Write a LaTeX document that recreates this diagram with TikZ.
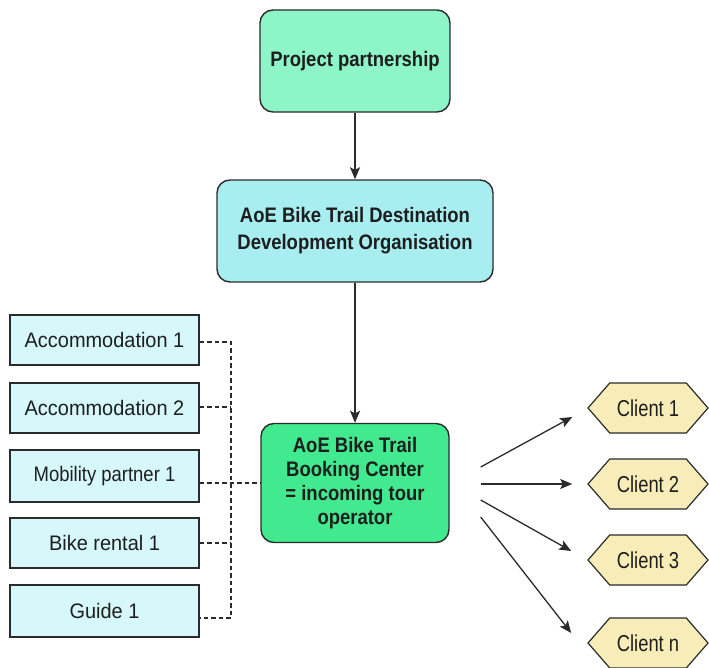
\documentclass[tikz,border=0pt]{standalone}
\usepackage{fontspec}
\setmainfont{Liberation Sans}[BoldFeatures={FakeStretch=0.88}]
\newfontfamily\sidefont{Liberation Sans}[FakeStretch=0.95]
\newfontfamily\mobfont{Liberation Sans}[FakeStretch=0.88]
\newfontfamily\clientfont{Liberation Sans}[FakeStretch=0.8]
\usetikzlibrary{shapes.symbols,arrows.meta}
\definecolor{ppfill}{HTML}{8EF5C8}
\definecolor{ddofill}{HTML}{A8EEF0}
\definecolor{bcfill}{HTML}{42EA8F}
\definecolor{lfill}{HTML}{D6F8FA}
\definecolor{cfill}{HTML}{F8EDB9}
\definecolor{edge}{HTML}{2B2B2B}
\definecolor{txt}{HTML}{1E1E1E}
\tikzset{
  mainbox/.style={draw=edge, line width=1.4pt, rounded corners=13pt, align=center, text=txt,
    font=\fontsize{21}{27}\selectfont\bfseries, inner sep=0pt},
  sidebox/.style={draw=edge, line width=1.3pt, fill=lfill, text=txt, minimum width=189pt,
    minimum height=50pt, inner sep=0pt, font=\sidefont\fontsize{21}{22}\selectfont},
  clientbox/.style={draw=edge, line width=1.2pt, fill=cfill, text=txt, signal, signal to=west and east,
    signal pointer angle=98, minimum width=120pt, minimum height=50pt, inner sep=0pt,
    font=\clientfont\fontsize{23}{24}\selectfont},
  arr/.style={draw=edge, line width=1.3pt, -{Stealth[length=12pt,width=10pt,inset=2.5pt]}},
  dashline/.style={draw=edge, line width=1.1pt, dash pattern=on 4.5pt off 3pt}
}
\begin{document}
\begin{tikzpicture}[x=1pt,y=-1pt]
\useasboundingbox[fill=white] (0,0) rectangle (709,668);
% main boxes
\node[mainbox, fill=ppfill, minimum width=190pt, minimum height=102pt] (pp) at (355,61) {Project partnership};
\node[mainbox, fill=ddofill, minimum width=276pt, minimum height=102pt] (ddo) at (355,231)
  {AoE Bike Trail Destination\\Development Organisation};
\node[mainbox, fill=bcfill, minimum width=188pt, minimum height=119pt,
  font=\fontsize{21}{24}\selectfont\bfseries] (bc) at (355,483)
  {AoE Bike Trail\\Booking Center\\= incoming tour\\operator};
% side boxes
\node[sidebox] (a1) at (104.5,340) {Accommodation 1};
\node[sidebox] (a2) at (104.5,408) {Accommodation 2};
\node[sidebox, minimum height=52pt, font=\mobfont\fontsize{21}{22}\selectfont] (mp) at (104.5,476) {Mobility partner 1};
\node[sidebox] (br) at (104.5,543) {Bike rental 1};
\node[sidebox, minimum height=52pt] (gd) at (104.5,611) {Guide 1};
% clients
\node[clientbox] (c1) at (648,408) {Client 1};
\node[clientbox] (c2) at (648,484) {Client 2};
\node[clientbox] (c3) at (648,560) {Client 3};
\node[clientbox] (cn) at (648,643) {Client n};
% bus
\coordinate (bt) at (231,342);
\coordinate (bb) at (231,618);
\draw[dashline] ([yshift=-2pt]a1.east) -- (bt) -- (bb) -- ([yshift=-7pt]gd.east);
\draw[dashline] ([yshift=1pt]a2.east) -- ([yshift=1pt]a2.east -| bt);
\draw[dashline] (mp.east |- bc.west) -- (bc.west);
\draw[dashline] (br.east) -- (br.east -| bt);
% arrows
\draw[arr] (pp) -- (ddo);
\draw[arr] (ddo) -- (bc);
\draw[arr] ([xshift=31pt,yshift=16pt]bc.east) -- ([xshift=-15pt,yshift=-9pt]c1.west);
\draw[arr] ([xshift=31pt,yshift=-1pt]bc.east) -- ([xshift=-15pt]c2.west);
\draw[arr] ([xshift=31pt,yshift=-17pt]bc.east) -- ([xshift=-16pt,yshift=9pt]c3.west);
\draw[arr] ([xshift=31pt,yshift=-34pt]bc.east) -- ([xshift=-16pt,yshift=10pt]cn.west);
\end{tikzpicture}
\end{document}
